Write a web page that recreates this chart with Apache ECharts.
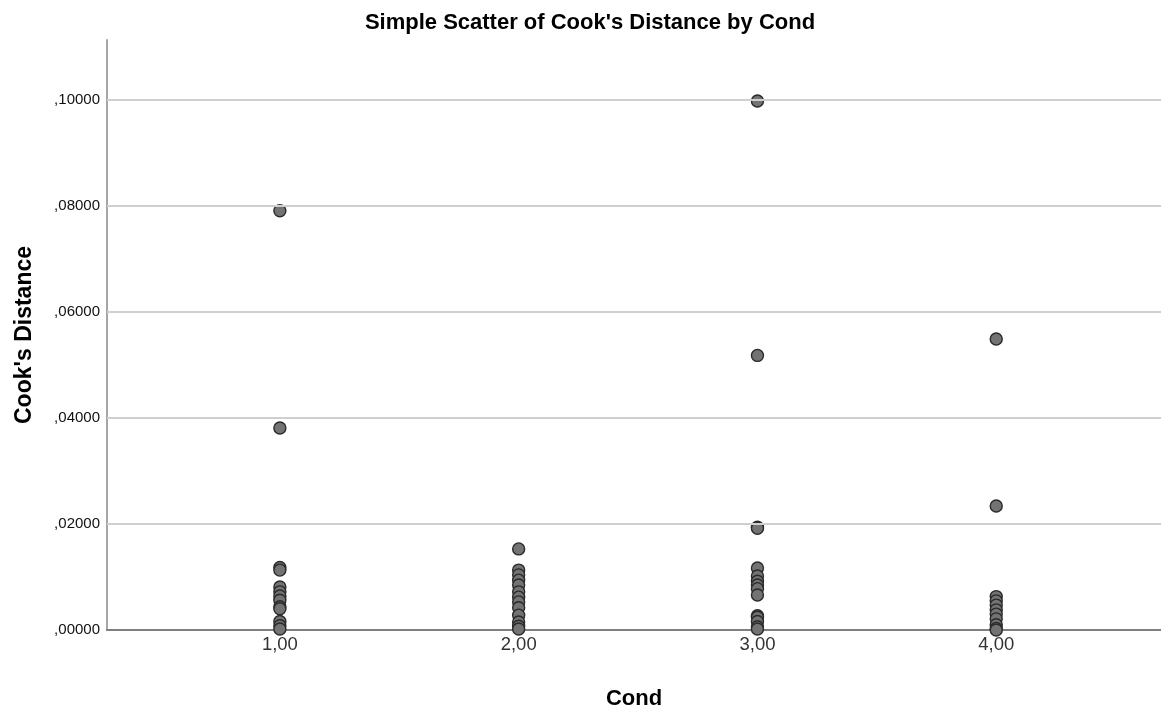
<!DOCTYPE html>
<html>
<head>
<meta charset="utf-8">
<script src="https://cdn.jsdelivr.net/npm/echarts@6/dist/echarts.min.js"></script>
<style>
  html, body { margin: 0; padding: 0; background: #ffffff; }
  #chart { width: 1161px; height: 715px; }
</style>
</head>
<body>
<div id="chart"></div>
<script>
// Cook's distance values per condition group
const cond1 = [0.0791, 0.0381, 0.0118, 0.0113, 0.0081, 0.0072, 0.0064, 0.0056, 0.0044, 0.0040, 0.0016, 0.0008, 0.0002];
const cond2 = [0.0153, 0.0113, 0.0104, 0.0094, 0.0085, 0.0072, 0.0062, 0.0053, 0.0042, 0.0028, 0.0015, 0.0007, 0.0002];
const cond3 = [0.0998, 0.0518, 0.0194, 0.0192, 0.0117, 0.0102, 0.0092, 0.0085, 0.0078, 0.0066, 0.0027, 0.0024, 0.0016, 0.0006, 0.0002];
const cond4 = [0.0549, 0.0234, 0.0063, 0.0055, 0.0047, 0.0038, 0.0030, 0.0021, 0.0010, 0.0003, 0.0000];
const conds = [1, 2, 3, 4];
const groups = [cond1, cond2, cond3, cond4];

// Axis ticks
const xTicks = [1, 2, 3, 4];
const yTicks = [0.02, 0.04, 0.06, 0.08, 0.10];

const points = [];
groups.forEach((vals, i) => vals.forEach(v => points.push([conds[i], v])));

const fmtY = v => ',' + Number(v).toFixed(5).split('.')[1];
const fmtX = v => Number(v).toFixed(2).replace('.', ',');
const FONT = 'Liberation Sans, Arial, sans-serif';

const chart = echarts.init(document.getElementById('chart'), null, { renderer: 'canvas' });
chart.setOption({
  animation: false,
  backgroundColor: '#ffffff',
  title: {
    text: "Simple Scatter of Cook's Distance by Cond",
    left: 585,
    textAlign: 'center',
    top: 7,
    textStyle: { fontFamily: FONT, fontSize: 22, fontWeight: 'bold', color: '#000' }
  },
  grid: { left: 107, right: 0, top: 40, bottom: 85 },
  xAxis: {
    type: 'value',
    min: 0.276,
    max: 4.69,
    name: 'Cond',
    nameLocation: 'middle',
    nameGap: 58,
    nameTextStyle: { fontFamily: FONT, fontSize: 22, fontWeight: 'bold', color: '#000' },
    axisLine: { show: true, onZero: false, lineStyle: { color: '#7f7f7f', width: 2 } },
    axisTick: { show: false },
    splitLine: { show: false },
    axisLabel: {
      customValues: xTicks,
      formatter: fmtX,
      margin: 5,
      fontFamily: FONT,
      fontSize: 18.5,
      color: '#333'
    }
  },
  yAxis: {
    type: 'value',
    min: 0,
    max: 0.1113,
    name: "Cook's Distance",
    nameLocation: 'middle',
    nameGap: 71,
    nameTextStyle: { fontFamily: FONT, fontSize: 23, fontWeight: 'bold', color: '#000' },
    axisLine: { show: true, lineStyle: { color: '#a6a6a6', width: 2 } },
    axisTick: { show: false },
    splitLine: { show: false },
    axisLabel: {
      customValues: [0].concat(yTicks),
      formatter: fmtY,
      margin: 7,
      fontFamily: FONT,
      fontSize: 15,
      color: '#111',
      padding: [7, 0, 0, 0]
    }
  },
  series: [{
    type: 'scatter',
    data: points,
    symbol: 'circle',
    symbolSize: 12,
    itemStyle: { color: '#737373', borderColor: '#2a2a2a', borderWidth: 1.4, opacity: 1 },
    markLine: {
      silent: true,
      symbol: ['none', 'none'],
      label: { show: false },
      lineStyle: { color: '#cfcfcf', width: 2, type: 'solid' },
      data: yTicks.map(v => ({ yAxis: v }))
    },
    z: 3
  }]
});
</script>
</body>
</html>
